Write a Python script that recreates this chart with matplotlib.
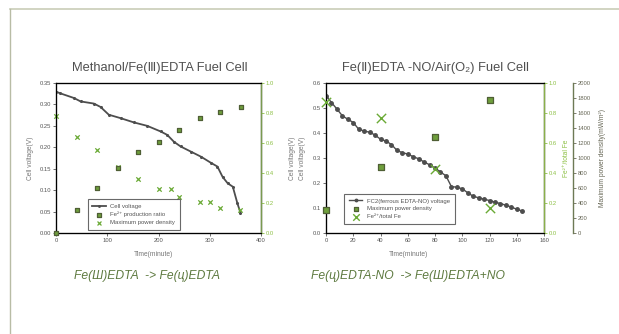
import matplotlib
matplotlib.use("Agg")
import matplotlib.pyplot as plt
from matplotlib.lines import Line2D

plt.rcParams['font.family'] = ['Liberation Sans', 'DejaVu Sans']

# ---------- Left chart data ----------
l_volt_t = [0, 8, 35, 48, 74, 87, 103, 126, 152, 178, 204, 217, 230, 243, 263, 283, 302, 315, 325, 335, 345, 354, 360]
l_volt_v = [0.330, 0.326, 0.315, 0.307, 0.302, 0.294, 0.276, 0.268, 0.258, 0.250, 0.237, 0.229, 0.213, 0.202,
            0.190, 0.178, 0.164, 0.155, 0.131, 0.116, 0.108, 0.069, 0.047]
l_ratio_t = [0, 40, 80, 120, 160, 200, 240, 280, 320, 360]
l_ratio_v = [0.0, 0.156, 0.297, 0.431, 0.540, 0.607, 0.685, 0.766, 0.808, 0.839]
l_pow_t = [0, 40, 80, 120, 160, 200, 225, 240, 280, 300, 320, 360]
l_pow_v = [0.273, 0.223, 0.194, 0.153, 0.127, 0.103, 0.103, 0.084, 0.072, 0.072, 0.059, 0.053]

# ---------- Right chart data ----------
r_volt_t = [0, 4, 8, 12, 16, 20, 24, 28, 32, 36, 40, 44, 48, 52, 56, 60, 64, 68, 72, 76, 80, 84, 88,
            92, 96, 100, 104, 108, 112, 116, 120, 124, 128, 132, 136, 140, 144]
r_volt_v = [0.550, 0.522, 0.496, 0.469, 0.455, 0.442, 0.415, 0.408, 0.403, 0.392, 0.375, 0.368, 0.354,
            0.331, 0.321, 0.316, 0.305, 0.297, 0.284, 0.273, 0.260, 0.244, 0.229, 0.186, 0.183, 0.177,
            0.161, 0.147, 0.141, 0.135, 0.130, 0.123, 0.118, 0.111, 0.104, 0.095, 0.088]
r_pow_t = [0, 40, 80, 120]
r_pow_v = [312, 884, 1277, 1777]
r_fe_t = [0, 40, 80, 120]
r_fe_v = [0.873, 0.770, 0.426, 0.170]

left_yticks = [0.00, 0.05, 0.10, 0.15, 0.20, 0.25, 0.30, 0.35]
ratio_ticks = [0.0, 0.2, 0.4, 0.6, 0.8, 1.0]
left_xticks = [0, 100, 200, 300, 400]
right_xticks = [0, 20, 40, 60, 80, 100, 120, 140, 160]
right_yticks = [0.0, 0.1, 0.2, 0.3, 0.4, 0.5, 0.6]
pow_ticks = [0, 200, 400, 600, 800, 1000, 1200, 1400, 1600, 1800, 2000]

W, H = 619, 334
fig = plt.figure(figsize=(W / 100, H / 100), dpi=100)

def fx(px):
    return px / W

def fy(py):
    return 1 - py / H

GREY = '#666666'
TXT = '#555555'
LGREEN = '#8dc045'
SQ_FACE = '#6f9f3c'
SQ_EDGE = '#4f5f35'
XCOL = '#6aaa35'
LINEC = '#4d4d4d'
TS = 4.2

# frame lines of the slide
fig.add_artist(Line2D([fx(10), 1.0], [fy(9), fy(9)], color='#c9cdb8', lw=1.2))
fig.add_artist(Line2D([fx(10), fx(10)], [fy(9), 0.0], color='#b8bca5', lw=1.0))

def style_main(ax):
    for s in ['left', 'bottom', 'top', 'right']:
        ax.spines[s].set_color(GREY)
        ax.spines[s].set_linewidth(1.0)
    ax.tick_params(labelsize=TS, colors=TXT, length=2, width=0.6, pad=1.5)

# ---------- Left chart ----------
ax1 = fig.add_axes([fx(56), fy(233), fx(261) - fx(56), fy(83) - fy(233)])
style_main(ax1)
ax1.set_xlim(0, 400)
ax1.set_ylim(0, 0.35)
ax1.set_xticks(left_xticks)
ax1.set_yticks(left_yticks)
ax1.set_yticklabels([f"{v:.2f}" for v in left_yticks])
h1, = ax1.plot(l_volt_t, l_volt_v, color=LINEC, lw=1.3, marker='o', markersize=1.2, label='Cell voltage', zorder=3)
h3 = ax1.scatter(l_pow_t, l_pow_v, marker='x', color=XCOL, s=10, lw=0.9, label='Maximum power density', zorder=4, clip_on=False)
ax1b = ax1.twinx()
ax1b.set_ylim(0, 1.0)
ax1b.set_yticks(ratio_ticks)
ax1b.set_yticklabels([f"{v:.1f}" for v in ratio_ticks])
ax1b.tick_params(labelsize=TS, colors=LGREEN, length=2, width=0.6, pad=1.5)
ax1b.spines['right'].set_color('#7a9a50')
ax1b.spines['right'].set_linewidth(1.0)
h2 = ax1b.scatter(l_ratio_t, l_ratio_v, marker='s', facecolor=SQ_FACE, edgecolor=SQ_EDGE, s=12, lw=0.9,
                  label='Fe²⁺ production ratio', zorder=4, clip_on=False)
leg1 = ax1b.legend(handles=[h1, h2, h3], loc='lower left', bbox_to_anchor=(0.14, 0.0), fontsize=4.3,
                   frameon=True, fancybox=False, edgecolor='#444444', borderpad=0.8, labelspacing=0.45,
                   handlelength=2.2, markerscale=0.9)
leg1.get_frame().set_linewidth(0.8)
for t in leg1.get_texts():
    t.set_color(TXT)

fig.text(fx(160), fy(68), 'Methanol/Fe(Ⅲ)EDTA Fuel Cell', ha='center', va='center', fontsize=9.3, color='#505050')
fig.text(fx(31), fy(158), 'Cell voltage(V)', rotation=90, ha='center', va='center', fontsize=4.8, color='#777777')
fig.text(fx(293), fy(158), 'Cell voltage(V)', rotation=90, ha='center', va='center', fontsize=4.8, color='#777777')
fig.text(fx(153), fy(254), 'Time(minute)', ha='center', va='center', fontsize=4.8, color='#777777')

# ---------- Right chart ----------
ax2 = fig.add_axes([fx(326), fy(233), fx(544) - fx(326), fy(83) - fy(233)])
style_main(ax2)
ax2.set_xlim(0, 160)
ax2.set_ylim(0, 0.6)
ax2.set_xticks(right_xticks)
ax2.set_yticks(right_yticks)
ax2.set_yticklabels([f"{v:.1f}" for v in right_yticks])
g1, = ax2.plot(r_volt_t, r_volt_v, color=LINEC, lw=1.0, marker='o', markersize=2.5, label='FC2(ferrous EDTA-NO) voltage', zorder=3)

ax2b = ax2.twinx()
ax2b.set_ylim(0, 1.0)
ax2b.set_yticks(ratio_ticks)
ax2b.set_yticklabels([f"{v:.1f}" for v in ratio_ticks])
ax2b.tick_params(labelsize=TS, colors=LGREEN, length=2, width=0.6, pad=1.5)
ax2b.spines['right'].set_color('#8ab04a')
ax2b.spines['right'].set_linewidth(1.0)
g3 = ax2b.scatter(r_fe_t, r_fe_v, marker='x', color=XCOL, s=45, lw=1.0, label='Fe²⁺/total Fe', zorder=4, clip_on=False)

ax2c = ax2.twinx()
ax2c.spines['right'].set_position(('axes', 1.133))
ax2c.set_ylim(0, 2000)
ax2c.set_yticks(pow_ticks)
ax2c.tick_params(labelsize=TS, colors='#666655', length=2, width=0.6, pad=1.5)
ax2c.spines['right'].set_color('#6d7a55')
ax2c.spines['right'].set_linewidth(1.0)
for s in ['top', 'bottom', 'left']:
    ax2c.spines[s].set_visible(False)
g2 = ax2c.scatter(r_pow_t, r_pow_v, marker='s', facecolor=SQ_FACE, edgecolor=SQ_EDGE, s=14, lw=0.9,
                  label='Maximum power density', zorder=4, clip_on=False)

leg2 = ax2c.legend(handles=[g1, g2, g3], loc='lower left', bbox_to_anchor=(0.07, 0.04), fontsize=4.3,
                   frameon=True, fancybox=False, edgecolor='#444444', borderpad=0.8, labelspacing=0.45,
                   handlelength=2.2, markerscale=0.7)
leg2.get_frame().set_linewidth(0.8)
for t in leg2.get_texts():
    t.set_color(TXT)

fig.text(fx(435), fy(68), 'Fe(Ⅱ)EDTA -NO/Air(O₂) Fuel Cell', ha='center', va='center', fontsize=9.3, color='#505050')
fig.text(fx(303), fy(158), 'Cell voltage(V)', rotation=90, ha='center', va='center', fontsize=4.8, color='#777777')
fig.text(fx(567), fy(158), 'Fe²⁺/total Fe', rotation=90, ha='center', va='center', fontsize=4.8, color=LGREEN)
fig.text(fx(603), fy(158), 'Maximum power density(mW/m²)', rotation=90, ha='center', va='center', fontsize=4.8, color='#666655')
fig.text(fx(408), fy(254), 'Time(minute)', ha='center', va='center', fontsize=4.8, color='#777777')

# ---------- reaction captions ----------
fig.text(fx(147), fy(276), 'Fe(Ш)EDTA  -> Fe(ц)EDTA', ha='center', va='center', fontsize=8.7,
         style='italic', color='#5e7a40')
fig.text(fx(408), fy(276), 'Fe(ц)EDTA-NO  -> Fe(Ш)EDTA+NO', ha='center', va='center', fontsize=8.7,
         style='italic', color='#5e7a40')

fig.savefig('out.png', dpi=100)
